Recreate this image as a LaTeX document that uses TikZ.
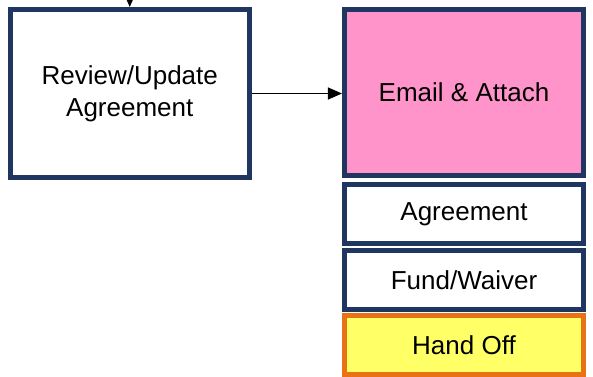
\documentclass[tikz,border=0pt]{standalone}
\usepackage{fontspec}
\setmainfont{Liberation Sans}
\usetikzlibrary{arrows.meta}

\definecolor{boxnavy}{RGB}{31,55,96}
\definecolor{boxpink}{RGB}{255,148,202}
\definecolor{boxyellow}{RGB}{255,255,102}
\definecolor{boxorange}{RGB}{232,114,20}

\tikzset{every picture/.style={line width=0.75pt}}
\tikzset{
  stepbox/.style={draw=boxnavy, line width=3.75pt, fill=white, inner sep=0pt,
    minimum width=179.3pt, align=center, font=\fontsize{19.5}{24}\selectfont},
  flowarrow/.style={-{Triangle[length=10.5pt,width=9pt]}, line width=0.75pt}
}

\begin{document}
\begin{tikzpicture}[x=0.75pt,y=0.75pt,yscale=-1,xscale=1]
\useasboundingbox (0,0) rectangle (593,376);

%Shape: Rectangle [review]
\node [stepbox, minimum width=179.6pt, minimum height=126pt] (review) at (129.75,93.5) {Review/Update\\Agreement};
%Shape: Rectangle [email]
\node [stepbox, fill=boxpink, minimum height=124.5pt] (email) at (464,92.5) {Email \& Attach};
%Shape: Rectangle [agreement]
\node [stepbox, minimum height=44.25pt] (agreement) at (464,214) {Agreement};
%Shape: Rectangle [fund]
\node [stepbox, minimum height=44.25pt] (fund) at (464,280) {Fund/Waiver};
%Shape: Rectangle [handoff]
\node [stepbox, draw=boxorange, fill=boxyellow, minimum height=44.25pt] (handoff) at (464,345) {Hand Off};

% free ends
\coordinate (intop) at (129.75,-40);
\coordinate (outbottom) at (464,420);

%Straight Lines
\draw [flowarrow] (intop) -- (review.north);
\draw [flowarrow] (review.east) -- (review.east -| email.west);
\draw (handoff.south) -- (outbottom);

\end{tikzpicture}
\end{document}
